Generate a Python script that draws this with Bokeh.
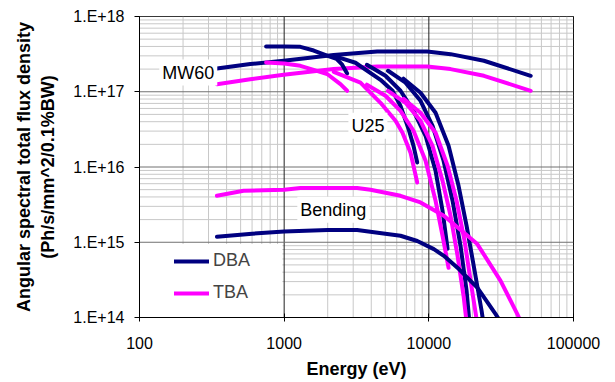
from bokeh.plotting import figure
from bokeh.models import (FixedTicker, CustomJSTickFormatter, Label, Legend, LegendItem)
from bokeh.embed import file_html
from bokeh.resources import INLINE

# ---------------- data (energy in eV, flux in Ph/s/mm^2/0.1%BW) ----------------
mw60_e = [343, 583, 992, 2200, 4395, 9750, 14130, 24030, 50580]
mw60_dba_f = [2.04e17, 2.33e17, 2.58e17, 3.07e17, 3.43e17, 3.43e17, 3.16e17, 2.58e17, 1.63e17]
mw60_tba_f = [1.26e17, 1.47e17, 1.68e17, 2.0e17, 2.17e17, 2.17e17, 2.0e17, 1.63e17, 1.03e17]

u25_dba_h1_e = [750, 1000, 1295, 1600, 2000, 2300, 2500, 2725]
u25_dba_h1_f = [4.0e17, 4.0e17, 3.95e17, 3.53e17, 3.0e17, 2.74e17, 2.33e17, 1.75e17]
u25_tba_h1_e = [750, 1000, 1295, 1600, 1982, 2449, 2725]
u25_tba_h1_f = [2.45e17, 2.38e17, 2.21e17, 1.95e17, 1.72e17, 1.26e17, 1.03e17]

u25_dba_h3_e = [2200, 3110, 4634, 5610, 6370, 7236, 7834, 8313]
u25_dba_h3_f = [3.0e17, 2.43e17, 1.44e17, 1.03e17, 6.5e16, 3.22e16, 1.91e16, 1.15e16]
u25_tba_h3_e = [2200, 3368, 4634, 5885, 6577, 7470, 8313]
u25_tba_h3_f = [1.84e17, 1.32e17, 7.13e16, 4.11e16, 2.85e16, 1.55e16, 6.22e15]

u25_dba_h5_e = [3730, 5015, 6370, 7834, 9490, 11130, 12440, 13475]
u25_dba_h5_f = [2.28e17, 1.63e17, 1.03e17, 5.58e16, 2.6e16, 8.9e15, 2.62e15, 8.19e14]
u25_tba_h5_e = [3730, 5015, 6370, 7834, 9490, 11130, 12440, 13690]
u25_tba_h5_f = [1.24e17, 8.84e16, 5.58e16, 3.03e16, 1.21e16, 3.56e15, 1.22e15, 4.58e14]

u25_dba_h7_e = [5220, 6900, 8760, 10610, 12640, 14590, 16560, 18240, 19040]
u25_dba_h7_f = [1.9e17, 1.32e17, 7.58e16, 3.53e16, 1.21e16, 3.56e15, 8.97e14, 2.26e14, 9.0e13]
u25_tba_h7_e = [5220, 6900, 8760, 10610, 12440, 14130, 15800, 17380, 18530]
u25_tba_h7_f = [1.03e17, 7.13e16, 4.11e16, 1.91e16, 6.55e15, 2.25e15, 6.6e14, 1.94e14, 6.66e13]

u25_dba_h9_e = [6683, 8760, 11130, 13690, 16050, 18240, 20720, 23160, 24480]
u25_dba_h9_f = [1.49e17, 9.7e16, 5.25e16, 1.91e16, 5.62e15, 1.65e15, 4.18e14, 1.23e14, 6.0e13]
u25_tba_h9_e = [6683, 8760, 11130, 13475, 15550, 17660, 19440, 21480]
u25_tba_h9_f = [8.06e16, 5.25e16, 2.85e16, 1.04e16, 3.56e15, 1.05e15, 3.07e14, 9.0e13]

bend_dba_e = [343, 600, 1000, 2000, 3196, 5000, 6370, 8320, 10830, 12700, 16130, 21630, 28950, 31000]
bend_dba_f = [1.18e15, 1.3e15, 1.39e15, 1.45e15, 1.45e15, 1.3e15, 1.22e15, 1.04e15, 8.1e14,
              6.6e14, 4.4e14, 2.5e14, 1.11e14, 9.0e13]
bend_tba_e = [343, 524, 1000, 1295, 3196, 3950, 6370, 8760, 12700, 21630, 31340, 40900, 43000]
bend_tba_f = [4.14e15, 4.83e15, 4.98e15, 5.25e15, 5.25e15, 4.98e15, 4.14e15, 3.38e15, 2.25e15,
              9.45e14, 3.07e14, 1.11e14, 9.0e13]

x_ticks = [100, 1000, 10000, 100000]
y_ticks = [1e14, 1e15, 1e16, 1e17, 1e18]

DBA_COLOR = "#000080"
TBA_COLOR = "#FF00FF"
FONT = "Liberation Sans"
X_LO, X_HI = x_ticks[0], x_ticks[-1]
Y_LO, Y_HI = y_ticks[0], y_ticks[-1]

# ---------------- figure ----------------
p = figure(width=615, height=382, x_axis_type="log", y_axis_type="log",
           x_range=(X_LO, X_HI), y_range=(Y_LO, Y_HI),
           output_backend="svg", toolbar_location=None,
           min_border_left=139, min_border_right=42,
           min_border_top=16, min_border_bottom=65)
p.background_fill_color = "white"
p.border_fill_color = "white"
p.outline_line_color = "black"
p.outline_line_width = 1
p.grid.visible = False

minor_x = [d * k for d in x_ticks[:-1] for k in range(2, 10)]
minor_y = [d * k for d in y_ticks[:-1] for k in range(2, 10)]
p.xaxis.ticker = FixedTicker(ticks=x_ticks)
p.yaxis.ticker = FixedTicker(ticks=y_ticks)
p.xaxis.formatter = CustomJSTickFormatter(code="return tick.toFixed(0);")
p.yaxis.formatter = CustomJSTickFormatter(code="return '1.E+' + Math.round(Math.log10(tick));")

# grid drawn as segments (minor first, then major)
p.segment(x0=minor_x, x1=minor_x, y0=[Y_LO] * len(minor_x), y1=[Y_HI] * len(minor_x),
          line_color="#c8c8c8", line_width=1)
p.segment(x0=[X_LO] * len(minor_y), x1=[X_HI] * len(minor_y), y0=minor_y, y1=minor_y,
          line_color="#c8c8c8", line_width=1)
p.segment(x0=x_ticks, x1=x_ticks, y0=[Y_LO] * len(x_ticks), y1=[Y_HI] * len(x_ticks),
          line_color="#202020", line_width=1)
p.segment(x0=[X_LO] * len(y_ticks), x1=[X_HI] * len(y_ticks), y0=y_ticks, y1=y_ticks,
          line_color="#707070", line_width=1)

# white box behind the legend (covers the grid there)
p.quad(left=[X_LO], right=[972], bottom=[Y_LO], top=[9.5e14],
       fill_color="white", line_color=None)

for ax in (p.xaxis, p.yaxis):
    ax.axis_line_color = "black"
    ax.major_tick_line_color = "black"
    ax.minor_tick_line_color = None
    ax.major_label_text_font = FONT
    ax.major_label_text_font_size = "16px"
    ax.major_label_text_color = "black"
    ax.axis_label_text_font = FONT
    ax.axis_label_text_font_style = "bold"
    ax.axis_label_text_font_size = "18px"
    ax.axis_label_text_color = "black"

p.xaxis.major_tick_in = 4
p.xaxis.major_tick_out = 4
p.xaxis.major_label_standoff = 15
p.xaxis.axis_label = "Energy (eV)"
p.xaxis.axis_label_standoff = 7

p.yaxis.major_tick_in = 0
p.yaxis.major_tick_out = 5
p.yaxis.major_label_standoff = 10
p.yaxis.axis_label = "Angular spectral total flux density\n(Ph/s/mm^2/0.1%BW)"
p.yaxis.axis_label_standoff = 12

series = [
    (mw60_e, mw60_dba_f, DBA_COLOR),
    (mw60_e, mw60_tba_f, TBA_COLOR),
    (u25_dba_h1_e, u25_dba_h1_f, DBA_COLOR),
    (u25_tba_h1_e, u25_tba_h1_f, TBA_COLOR),
    (u25_dba_h3_e, u25_dba_h3_f, DBA_COLOR),
    (u25_tba_h3_e, u25_tba_h3_f, TBA_COLOR),
    (u25_dba_h5_e, u25_dba_h5_f, DBA_COLOR),
    (u25_tba_h5_e, u25_tba_h5_f, TBA_COLOR),
    (u25_dba_h7_e, u25_dba_h7_f, DBA_COLOR),
    (u25_tba_h7_e, u25_tba_h7_f, TBA_COLOR),
    (u25_dba_h9_e, u25_dba_h9_f, DBA_COLOR),
    (u25_tba_h9_e, u25_tba_h9_f, TBA_COLOR),
    (bend_dba_e, bend_dba_f, DBA_COLOR),
    (bend_tba_e, bend_tba_f, TBA_COLOR),
]
renderers = {}
for e, f, c in series:
    r = p.line(e, f, line_color=c, line_width=4, line_join="round", line_cap="round")
    renderers.setdefault(c, r)

legend = Legend(items=[LegendItem(label="DBA", renderers=[renderers[DBA_COLOR]]),
                       LegendItem(label="TBA", renderers=[renderers[TBA_COLOR]])],
                location=(35, 14), background_fill_alpha=0, border_line_alpha=0,
                label_text_font=FONT, label_text_font_size="18px",
                glyph_width=35, glyph_height=20, label_height=20, spacing=11,
                padding=0, margin=0, label_standoff=4)
p.add_layout(legend)

for x, y, t in [(137, 1.8e17, "MW60"), (2780, 3.52e16, "U25"), (1233, 2.7e15, "Bending")]:
    p.add_layout(Label(x=x, y=y, text=t, text_align="left", text_baseline="middle",
                       text_font=FONT, text_font_size="18px", text_color="black",
                       background_fill_color="white", padding=3))

open("out.html", "w").write(file_html(p, INLINE))
